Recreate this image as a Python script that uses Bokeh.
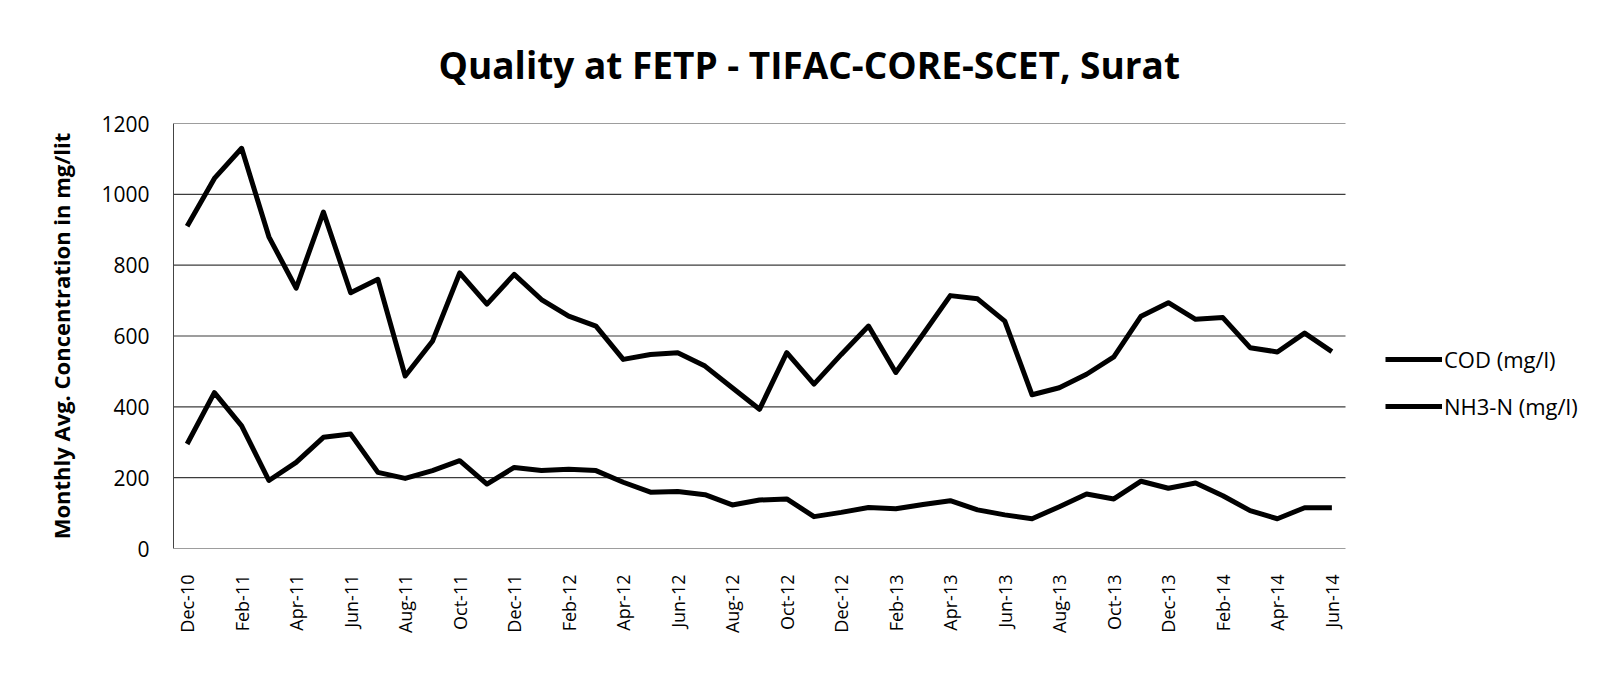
import math
from bokeh.plotting import figure
from bokeh.models import Range1d, FixedTicker, Legend, LegendItem
from bokeh.embed import file_html
from bokeh.resources import INLINE

# ---- data ----
months = ["Dec-10", "Jan-11", "Feb-11", "Mar-11", "Apr-11", "May-11", "Jun-11", "Jul-11",
          "Aug-11", "Sep-11", "Oct-11", "Nov-11", "Dec-11", "Jan-12", "Feb-12", "Mar-12",
          "Apr-12", "May-12", "Jun-12", "Jul-12", "Aug-12", "Sep-12", "Oct-12", "Nov-12",
          "Dec-12", "Jan-13", "Feb-13", "Mar-13", "Apr-13", "May-13", "Jun-13", "Jul-13",
          "Aug-13", "Sep-13", "Oct-13", "Nov-13", "Dec-13", "Jan-14", "Feb-14", "Mar-14",
          "Apr-14", "May-14", "Jun-14"]
cod = [910, 1045, 1130, 880, 735, 950, 722, 760, 487, 585, 778, 690, 774, 703, 656, 628,
       534, 548, 553, 515, 454, 393, 553, 464, 548, 628, 497, 605, 714, 705, 642, 434,
       454, 492, 541, 656, 694, 647, 652, 567, 555, 608, 556]
nh3 = [295, 440, 346, 192, 243, 314, 323, 215, 198, 220, 248, 182, 229, 220, 224, 220,
       187, 159, 161, 152, 123, 137, 140, 90, 102, 116, 112, 124, 135, 109, 95, 84,
       118, 154, 140, 190, 170, 185, 149, 107, 84, 115, 115]
y_ticks = [0, 200, 400, 600, 800, 1000, 1200]
title_text = "Quality at FETP - TIFAC-CORE-SCET, Surat"
y_label = "Monthly Avg. Concentration in mg/lit"
series_names = ["COD (mg/l)", "NH3-N (mg/l)"]

xs = list(range(len(months)))

# ---- layout (pixels) ----
W, H = 1584, 659
LEFT, RIGHT, TOP, BOTTOM = 173, 4, 123, 111
plot_area_w = 1172           # width used by the data categories
frame_w = W - LEFT - RIGHT   # frame also hosts the legend at its right
x0 = -0.5
x1 = len(months) - 0.5
x_end = x0 + (x1 - x0) * frame_w / plot_area_w

p = figure(width=W, height=H,
           x_range=Range1d(x0, x_end), y_range=Range1d(0, 1200),
           output_backend="svg", toolbar_location=None,
           min_border_left=LEFT, min_border_right=RIGHT,
           min_border_top=TOP, min_border_bottom=BOTTOM)
p.outline_line_color = None
p.background_fill_color = "white"
p.border_fill_color = "white"

# horizontal gridlines only across the category area
p.xgrid.grid_line_color = None
p.ygrid.grid_line_color = None
p.segment(x0=[x0] * len(y_ticks), x1=[x1] * len(y_ticks), y0=y_ticks, y1=y_ticks,
          line_color="#3c3c3c", line_width=1.2)

r_cod = p.line(xs, cod, line_color="black", line_width=5, line_join="round")
r_nh3 = p.line(xs, nh3, line_color="black", line_width=5, line_join="round")

# title
p.title.text = title_text
p.title.align = "left"
p.title.offset = 265
p.title.text_font = "Open Sans"
p.title.text_font_style = "bold"
p.title.text_font_size = "37px"
p.title.text_color = "black"
p.title.standoff = 68

# y axis
p.yaxis.ticker = FixedTicker(ticks=y_ticks)
p.yaxis.axis_label = y_label
p.yaxis.axis_label_text_font = "Open Sans"
p.yaxis.axis_label_text_font_style = "bold"
p.yaxis.axis_label_text_font_size = "22px"
p.yaxis.axis_label_text_color = "black"
p.yaxis.axis_label_standoff = 22
p.yaxis.major_label_text_font = "Open Sans"
p.yaxis.major_label_text_font_size = "21px"
p.yaxis.major_label_text_color = "black"
p.yaxis.major_label_standoff = 24
p.yaxis.major_tick_out = 0
p.yaxis.major_tick_in = 0
p.yaxis.minor_tick_line_color = None
p.yaxis.axis_line_color = "#444444"
p.yaxis.axis_line_width = 1

# x axis
even_idx = [i for i in xs if i % 2 == 0]
p.xaxis.ticker = FixedTicker(ticks=even_idx)
p.xaxis.major_label_overrides = {i: months[i] for i in even_idx}
p.xaxis.major_label_orientation = math.pi / 2
p.xaxis.major_label_text_font = "Open Sans"
p.xaxis.major_label_text_font_size = "18px"
p.xaxis.major_label_text_color = "black"
p.xaxis.major_label_standoff = 26
p.xaxis.major_tick_out = 0
p.xaxis.major_tick_in = 0
p.xaxis.minor_tick_line_color = None
p.xaxis.axis_line_color = None

# legend (inside the frame, to the right of the category area)
legend = Legend(items=[LegendItem(label=series_names[0], renderers=[r_cod]),
                       LegendItem(label=series_names[1], renderers=[r_nh3])],
                location=(1212, 127), orientation="vertical",
                padding=0, margin=0, border_line_color=None,
                background_fill_alpha=0, glyph_width=57, glyph_height=20,
                label_standoff=2, spacing=17, label_height=20,
                label_text_font="Open Sans", label_text_font_size="22px",
                label_text_color="black")
p.add_layout(legend)

open("out.html", "w").write(file_html(p, INLINE))
